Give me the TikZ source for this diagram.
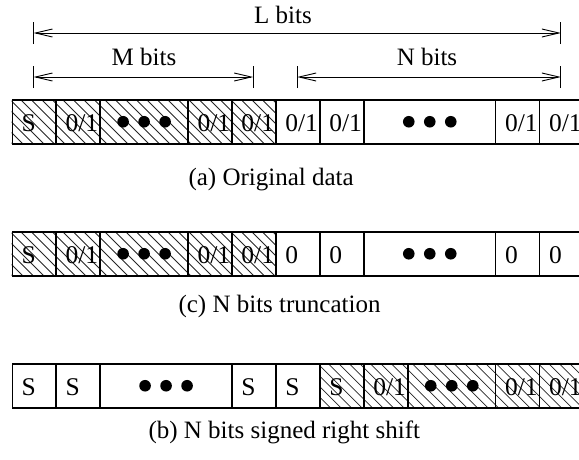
\documentclass[tikz,border=0pt]{standalone}
\usepackage{fontspec}
\setmainfont{Liberation Serif}
\usetikzlibrary{arrows.meta}
\begin{document}
\begin{tikzpicture}[x=1pt,y=-1pt,
  cell/.style={draw, line width=1.5pt, minimum height=44pt, minimum width=#1,
    inner sep=0pt, anchor=north west},
  cell/.default=43.95pt,
  celltext/.style={inner sep=0pt, anchor=base west,
    font=\fontsize{25.5pt}{30pt}\selectfont},
  hatch/.style={line width=0.8pt, black!85},
  dim/.style={line width=0.9pt, {Straight Barb[length=17pt,width=8pt]}-{Straight Barb[length=17pt,width=8pt]}},
  tick/.style={line width=0.9pt},
  dimlabel/.style={font=\fontsize{25pt}{30pt}\selectfont, anchor=base},
  caption/.style={font=\fontsize{25pt}{30pt}\selectfont, anchor=base west},
  dot/.style={fill=black}
]
\useasboundingbox (0,0) rectangle (579,459);

% diagonal hatching of a region
\newcommand{\hatchregion}[4]{%
  \begin{scope}
    \clip (#1,#2) rectangle (#3,#4);
    \foreach \k in {0,...,32}
      \draw[hatch] ({#1-44+\k*10.5},#2) -- ++(46,46);
  \end{scope}}
% one bit cell: name, top-left corner, text, width
\newcommand{\bitcell}[4][43.95pt]{%
  \node[cell=#1] (#2) at (#3) {};
  \node[celltext] (#2t) at ([xshift=10pt,yshift=-32.5pt]#2.north west) {#4};}
% a wide cell holding three dots
\newcommand{\dotcell}[3]{%
  \node[cell=#3] (#1) at (#2) {};
  \fill[dot] ([xshift=-21pt]#1.center) circle (5.8pt);
  \fill[dot] (#1.center) circle (5.8pt);
  \fill[dot] ([xshift=21pt]#1.center) circle (5.8pt);}

% ---------- dimension arrows ----------
\coordinate (Ll) at (33.5,33);  \coordinate (Lr) at (560.9,33);
\coordinate (Ml) at (33.5,77);  \coordinate (Mr) at (253.2,77);
\coordinate (Nl) at (297.2,77); \coordinate (Nr) at (560.9,77);
\foreach \c in {Ll,Lr,Ml,Mr,Nl,Nr}
  \draw[tick] ([yshift=-11pt]\c) -- ([yshift=11pt]\c);
\draw[dim] (Ll) -- (Lr);
\draw[dim] (Ml) -- (Mr);
\draw[dim] (Nl) -- (Nr);
\node[dimlabel] (Ltxt) at (283,23) {L bits};
\node[dimlabel] (Mtxt) at (144,65) {M bits};
\node[dimlabel] (Ntxt) at (427,65) {N bits};

% ---------- (a) original data ----------
\hatchregion{11.5}{99}{275.2}{143}
\bitcell{a1}{11.5,99}{S}
\bitcell{a2}{55.45,99}{0/1}
\dotcell{a3}{99.4,99}{87.9pt}
\bitcell{a4}{187.3,99}{0/1}
\bitcell{a5}{231.25,99}{0/1}
\bitcell{a6}{275.2,99}{0/1}
\bitcell{a7}{319.15,99}{0/1}
\dotcell{a8}{363.1,99}{131.85pt}
\bitcell{a9}{494.95,99}{0/1}
\bitcell{a10}{538.9,99}{0/1}
\node[caption] (capa) at (185,185) {(a) Original data};

% ---------- (c) N bits truncation ----------
\hatchregion{11.5}{231}{275.2}{275}
\bitcell{c1}{11.5,231}{S}
\bitcell{c2}{55.45,231}{0/1}
\dotcell{c3}{99.4,231}{87.9pt}
\bitcell{c4}{187.3,231}{0/1}
\bitcell{c5}{231.25,231}{0/1}
\bitcell{c6}{275.2,231}{0}
\bitcell{c7}{319.15,231}{0}
\dotcell{c8}{363.1,231}{131.85pt}
\bitcell{c9}{494.95,231}{0}
\bitcell{c10}{538.9,231}{0}
\node[caption] (capc) at (175,312) {(c) N bits truncation};

% ---------- (b) N bits signed right shift ----------
\hatchregion{319.15}{363}{590}{407}
\bitcell{b1}{11.5,363}{S}
\bitcell{b2}{55.45,363}{S}
\dotcell{b3}{99.4,363}{131.85pt}
\bitcell{b4}{231.25,363}{S}
\bitcell{b5}{275.2,363}{S}
\bitcell{b6}{319.15,363}{S}
\bitcell{b7}{363.1,363}{0/1}
\dotcell{b8}{407.05,363}{87.9pt}
\bitcell{b9}{494.95,363}{0/1}
\bitcell{b10}{538.9,363}{0/1}
\node[caption] (capb) at (145,438) {(b) N bits signed right shift};
\end{tikzpicture}
\end{document}
